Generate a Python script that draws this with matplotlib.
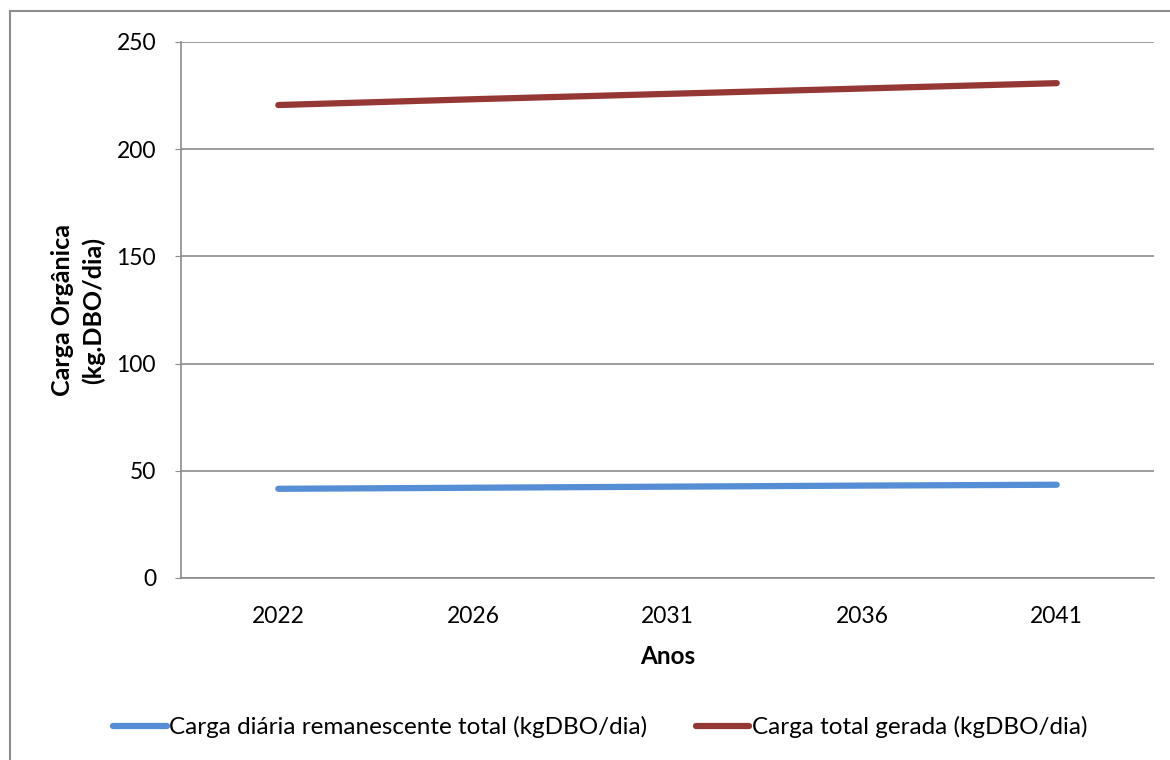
import matplotlib.pyplot as plt
from matplotlib.patches import Rectangle

# Dados
anos = ["2022", "2026", "2031", "2036", "2041"]
carga_remanescente = [41.6, 42.1, 42.6, 43.1, 43.5]
carga_gerada = [220.6, 223.3, 225.8, 228.3, 230.8]

plt.rcParams["font.family"] = ["Lato", "DejaVu Sans"]

fig = plt.figure(figsize=(11.7, 7.6), dpi=100)
ax = fig.add_axes([181 / 1170, 1 - 578 / 760, (1154 - 181) / 1170, (578 - 42) / 760])

# moldura externa do gráfico
fig.patches.append(Rectangle((10 / 1170, -0.05), 1.1, 1 - 11 / 760 + 0.05,
                             transform=fig.transFigure, fill=False,
                             edgecolor="#8c8c8c", linewidth=1.5))

x = range(len(anos))
ax.plot(x, carga_remanescente, color="#558ED5", linewidth=4.5,
        solid_capstyle="round", label="Carga diária remanescente total (kgDBO/dia)")
ax.plot(x, carga_gerada, color="#953735", linewidth=4.5,
        solid_capstyle="round", label="Carga total gerada (kgDBO/dia)")

ax.set_xlim(-0.5, len(anos) - 0.5)
ax.set_ylim(0, 250)
ax.set_xticks(list(x))
ax.set_xticklabels(anos)
ax.set_yticks([0, 50, 100, 150, 200, 250])
ax.yaxis.grid(True, color="#8c8c8c", linewidth=1.2)
ax.set_axisbelow(True)

for lado in ["top", "right"]:
    ax.spines[lado].set_visible(False)
for lado in ["left", "bottom"]:
    ax.spines[lado].set_color("#8c8c8c")
    ax.spines[lado].set_linewidth(1.2)

ax.tick_params(axis="x", length=0, labelsize=16.5, pad=20)
ax.tick_params(axis="y", length=4, color="#8c8c8c", labelsize=16.5, pad=14)

ax.set_xlabel("Anos", fontsize=17.5, fontweight="bold", labelpad=13)
ax.set_ylabel("Carga Orgânica\n(kg.DBO/dia)", fontsize=18, fontweight="bold",
              labelpad=8, linespacing=1.4)

fig.legend(loc="center", bbox_to_anchor=(0.513, 1 - 727 / 760), ncol=2,
           frameon=False, fontsize=17.5, handlelength=2.2, handletextpad=0.1,
           columnspacing=2.0)

fig.savefig("out.png", dpi=100)
